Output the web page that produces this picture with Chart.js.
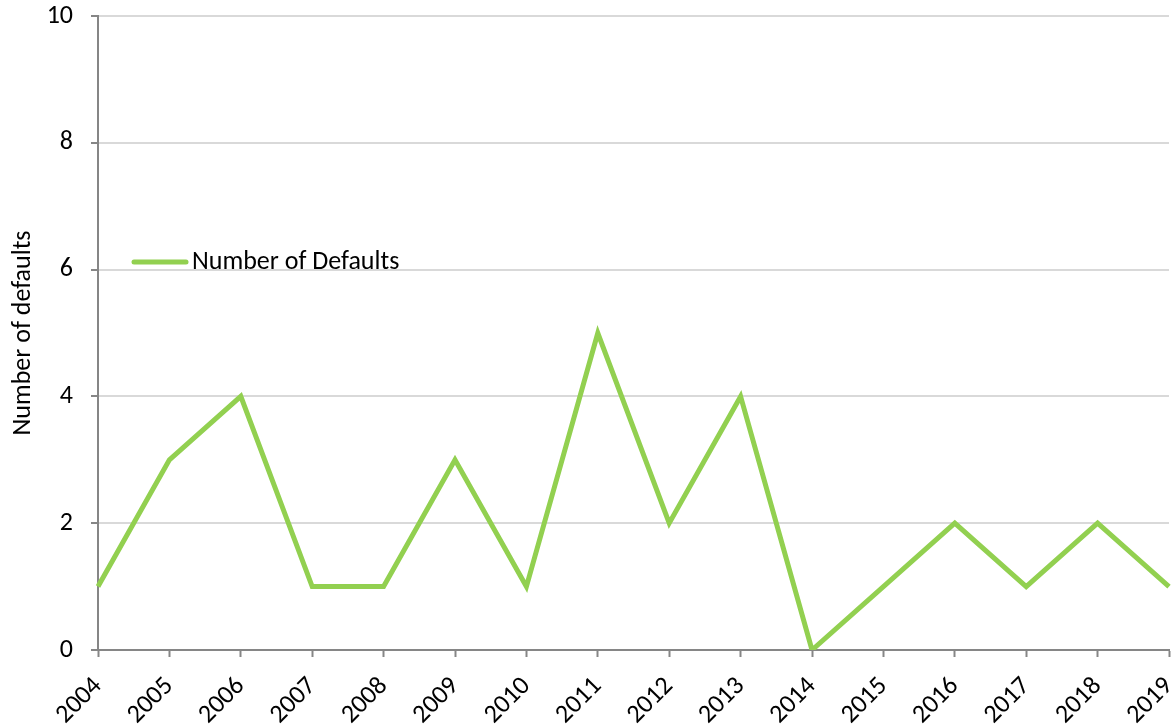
<!DOCTYPE html>
<html>
<head>
<meta charset="utf-8">
<script src="https://cdn.jsdelivr.net/npm/chart.js@4"></script>
<style>
    html, body { margin: 0; padding: 0; background: #fff; }
    #wrap { width: 1175px; height: 727px; }
</style>
</head>
<body>
<div id="wrap"><canvas id="grafico"></canvas></div>
<script>
// Datos del gráfico
const years = ['2004', '2005', '2006', '2007', '2008', '2009', '2010', '2011',
    '2012', '2013', '2014', '2015', '2016', '2017', '2018', '2019'];
const defaults = [1, 3, 4, 1, 1, 3, 1, 5, 2, 4, 0, 1, 2, 1, 2, 1];
const yTicks = [0, 2, 4, 6, 8, 10];
const seriesLabel = 'Number of Defaults';
const yTitle = 'Number of defaults';

const FONT = 'Carlito, Lato, "Open Sans", sans-serif';
const FSIZE = 26;
const GREEN = '#92D050';
const AXIS = '#868686';

// Leyenda dibujada dentro del área del gráfico
const leyendaInterna = {
    id: 'leyendaInterna',
    afterDraw(chart) {
        const ctx = chart.ctx;
        const ds = chart.data.datasets[0];
        const y = 262;
        ctx.save();
        ctx.strokeStyle = ds.borderColor;
        ctx.lineWidth = 5;
        ctx.lineCap = 'round';
        ctx.beginPath();
        ctx.moveTo(134, y);
        ctx.lineTo(186, y);
        ctx.stroke();
        ctx.fillStyle = '#000';
        ctx.font = FSIZE + 'px ' + FONT;
        ctx.textBaseline = 'middle';
        ctx.fillText(ds.label, 192, y);
        ctx.restore();
    }
};

new Chart(document.getElementById('grafico'), {
    type: 'line',
    data: {
        labels: years,
        datasets: [{
            label: seriesLabel,
            data: defaults,
            borderColor: GREEN,
            backgroundColor: GREEN,
            borderWidth: 5,
            pointRadius: 0,
            tension: 0,
            fill: false
        }]
    },
    options: {
        responsive: true,
        maintainAspectRatio: false,
        animation: false,
        layout: { padding: 0 },
        plugins: {
            legend: { display: false },
            tooltip: { enabled: false }
        },
        scales: {
            x: {
                offset: false,
                grid: {
                    drawOnChartArea: false,
                    tickColor: AXIS,
                    tickLength: 7,
                    tickWidth: 2
                },
                border: { color: AXIS, width: 2 },
                ticks: {
                    color: '#000',
                    font: { family: FONT, size: FSIZE },
                    maxRotation: 45,
                    minRotation: 45,
                    autoSkip: false,
                    padding: 14
                },
                afterFit(scale) {
                    scale.height = 77;
                    scale.paddingLeft = 0;
                    scale.paddingRight = 6;
                }
            },
            y: {
                min: 0,
                max: 10,
                afterBuildTicks(scale) {
                    scale.ticks = yTicks.map(v => ({ value: v }));
                },
                grid: {
                    color: '#D9D9D9',
                    lineWidth: 2,
                    tickColor: AXIS,
                    tickLength: 7
                },
                border: { color: AXIS, width: 2 },
                ticks: {
                    color: '#000',
                    font: { family: FONT, size: FSIZE },
                    padding: 18
                },
                title: {
                    display: true,
                    text: yTitle,
                    color: '#000',
                    font: { family: FONT, size: FSIZE },
                    padding: { top: 8, bottom: 0 }
                },
                afterFit(scale) {
                    scale.width = 98;
                    scale.paddingTop = 16;
                    scale.paddingBottom = 0;
                }
            }
        }
    },
    plugins: [leyendaInterna]
});
</script>
</body>
</html>
